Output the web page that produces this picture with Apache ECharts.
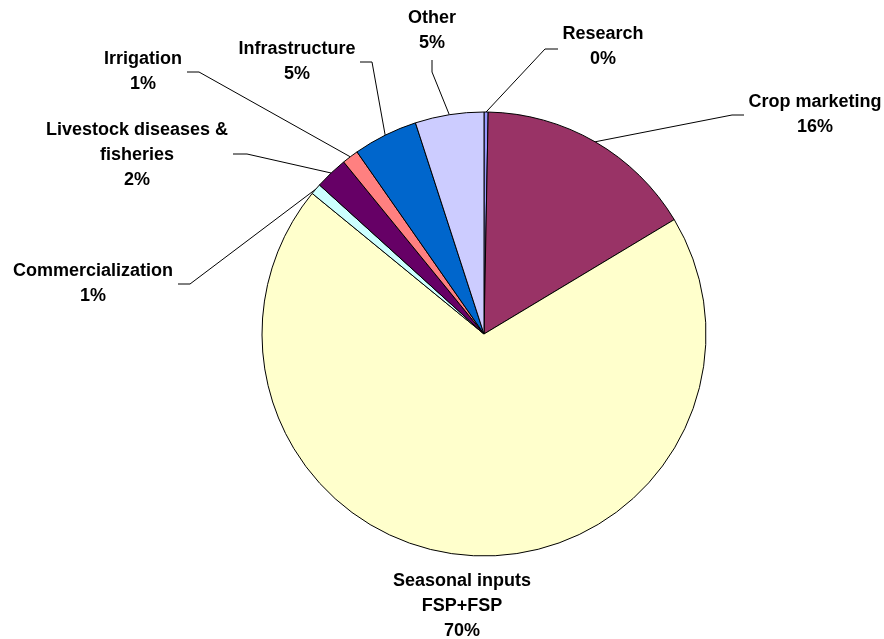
<!DOCTYPE html>
<html lang="en">
<head>
    <meta charset="UTF-8">
    <title>Budget pie</title>
    <script src="https://cdn.jsdelivr.net/npm/echarts@6/dist/echarts.min.js"></script>
    <style type="text/css">
        html, body { margin: 0; padding: 0; background: #fff; }
        #main { width: 884px; height: 639px; }
    </style>
</head>
<body>
    <div id="main"></div>
    <script type="text/javascript">
    // slices, clockwise from 12 o'clock
    var categories = ['Research', 'Crop marketing', 'Seasonal inputs\nFSP+FSP', 'Commercialization',
        'Livestock diseases &\nfisheries', 'Irrigation', 'Infrastructure', 'Other'];
    var shares = [0.3, 16.1, 69.6, 0.8, 2.4, 1.2, 4.7, 5.0];
    var colors = ['#9999FF', '#993366', '#FFFFCC', '#CCFFFF', '#660066', '#FF8080', '#0066CC', '#CCCCFF'];

    // where each label sits (text centre x, top y) and the leader line's knee / tail
    var labelSpots = [
        { x: 603, y: 22, knee: [545, 49], tail: [558, 49] },
        { x: 815, y: 90, knee: [732, 115], tail: [744, 115] },
        { x: 462, y: 569 },
        { x: 93, y: 259, knee: [190, 284], tail: [178, 284] },
        { x: 137, y: 118, knee: [247, 154], tail: [233, 154] },
        { x: 143, y: 47, knee: [199, 72], tail: [187, 72] },
        { x: 297, y: 37, knee: [372, 62], tail: [360, 62] },
        { x: 432, y: 6, knee: [432, 72], tail: [432, 60] }
    ];

    var myChart = echarts.init(document.getElementById('main'));

    var seriesData = categories.map(function(name, i) {
        var item = {
            name: name,
            value: shares[i],
            itemStyle: { color: colors[i] }
        };
        if (!labelSpots[i].knee) {
            item.labelLine = { show: false };
        }
        return item;
    });

    var option = {
        backgroundColor: '#fff',
        animation: false,
        series: [{
            type: 'pie',
            center: [484, 334],
            radius: 222,
            startAngle: 90,
            clockwise: true,
            avoidLabelOverlap: false,
            data: seriesData,
            itemStyle: {
                borderColor: '#000',
                borderWidth: 1
            },
            label: {
                show: true,
                position: 'outside',
                color: '#000',
                fontFamily: 'Liberation Sans, Arial, sans-serif',
                fontWeight: 'bold',
                fontSize: 18,
                lineHeight: 25,
                align: 'center',
                formatter: function(p) {
                    return p.name + '\n' + Math.round(p.percent) + '%';
                }
            },
            labelLine: {
                show: true,
                lineStyle: { color: '#000', width: 1 }
            },
            labelLayout: function(params) {
                var spot = labelSpots[params.dataIndex];
                var res = {
                    x: spot.x,
                    y: spot.y,
                    align: 'center',
                    verticalAlign: 'top'
                };
                if (spot.knee && params.labelLinePoints) {
                    var start = params.labelLinePoints[0];
                    res.labelLinePoints = [start, spot.knee, spot.tail];
                }
                return res;
            }
        }]
    };

    myChart.setOption(option);
    </script>
</body>
</html>
